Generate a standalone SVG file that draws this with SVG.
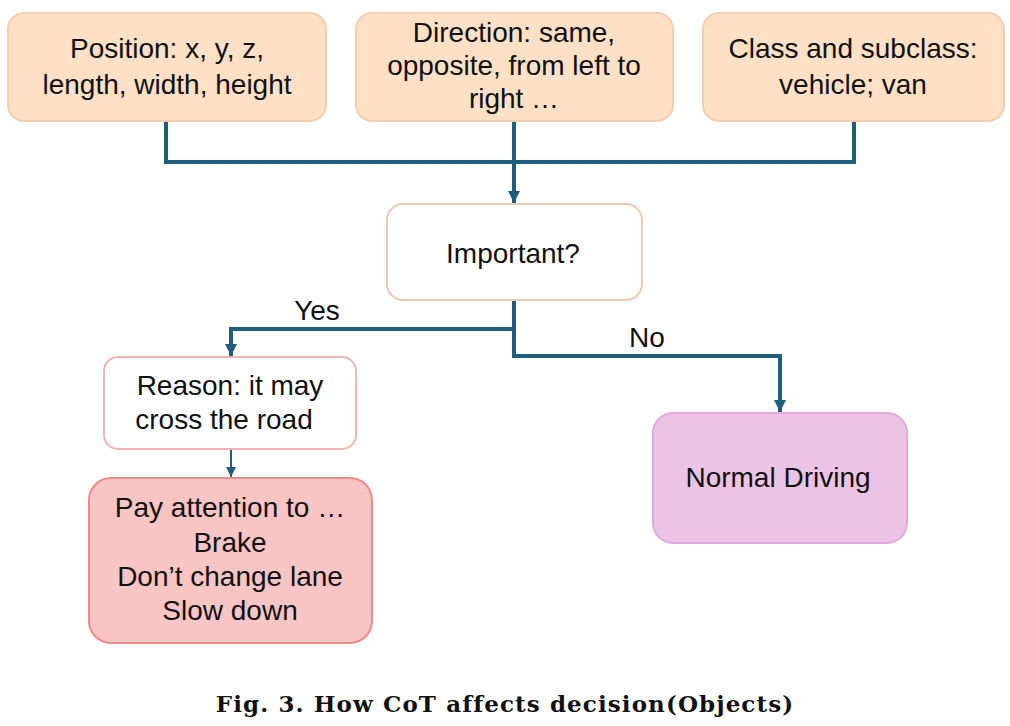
<svg xmlns="http://www.w3.org/2000/svg" width="1010" height="726" viewBox="0 0 1010 726">
<defs>
<style>
.t{font-family:"Liberation Sans",Arial,sans-serif;font-size:28px;fill:#111;text-anchor:middle}
.cap{font-family:"DejaVu Serif","Liberation Serif",serif;font-weight:bold;font-size:23px;letter-spacing:1.1px;fill:#111;text-anchor:middle}
.orange{fill:#fde0c5;stroke:#f6cdb0;stroke-width:2}
.wpink{fill:#fff;stroke:#f3b3b0;stroke-width:2}
.wpeach{fill:#fff;stroke:#f0c8b6;stroke-width:2}
.red{fill:#f8c4c4;stroke:#f08a87;stroke-width:2}
.purple{fill:#ebc4e5;stroke:#e2a6dc;stroke-width:2}
.c{fill:none;stroke:#1e5f80;stroke-width:4}
.thin{fill:none;stroke:#1e5f80;stroke-width:2}
</style>
<marker id="ah" markerUnits="userSpaceOnUse" markerWidth="14" markerHeight="12" refX="12" refY="6" orient="auto">
<path d="M0,0 L12,6 L0,12 Z" fill="#1e5f80"/>
</marker>
<marker id="ahs" markerUnits="userSpaceOnUse" markerWidth="12" markerHeight="10" refX="10" refY="5" orient="auto">
<path d="M0,0 L10,5 L0,10 Z" fill="#1e5f80"/>
</marker>
</defs>
<rect width="1010" height="726" fill="#fff"/>
<g id="connectors">
<path class="c" d="M166,121 V162 H854 V121"/>
<path class="c" d="M514,121 V203" marker-end="url(#ah)"/>
<path class="c" d="M514,300 V356 H780 V412" marker-end="url(#ah)"/>
<path class="c" d="M514,329 H231 V356" marker-end="url(#ah)"/>
<path class="thin" d="M231,449 V477" marker-end="url(#ahs)"/>
<text class="t" x="317" y="320">Yes</text>
<text class="t" x="647" y="347">No</text>
</g>
<g id="position">
<rect class="orange" x="8" y="13" width="318" height="108" rx="16"/>
<text class="t" x="167" y="58">Position: x, y, z,</text>
<text class="t" x="167" y="94">length, width, height</text>
</g>
<g id="direction">
<rect class="orange" x="356" y="13" width="317" height="108" rx="16"/>
<text class="t" x="514" y="42">Direction: same,</text>
<text class="t" x="514" y="75">opposite, from left to</text>
<text class="t" x="514" y="108">right …</text>
</g>
<g id="class">
<rect class="orange" x="703" y="13" width="301" height="108" rx="16"/>
<text class="t" x="853" y="58">Class and subclass:</text>
<text class="t" x="853" y="94">vehicle; van</text>
</g>
<g id="important">
<rect class="wpeach" x="387" y="204" width="255" height="96" rx="16"/>
<text class="t" x="513" y="263">Important?</text>
</g>
<g id="reason">
<rect class="wpink" x="104" y="357" width="252" height="92" rx="14"/>
<text class="t" x="230" y="395">Reason: it may</text>
<text class="t" x="224" y="429">cross the road</text>
</g>
<g id="action">
<rect class="red" x="89" y="478" width="283" height="165" rx="22"/>
<text class="t" x="230" y="517">Pay attention to …</text>
<text class="t" x="230" y="552">Brake</text>
<text class="t" x="230" y="586">Don’t change lane</text>
<text class="t" x="230" y="620">Slow down</text>
</g>
<g id="normal">
<rect class="purple" x="653" y="413" width="254" height="130" rx="20"/>
<text class="t" x="778" y="487">Normal Driving</text>
</g>
<text class="cap" x="505" y="712">Fig. 3. How CoT affects decision(Objects)</text>
</svg>
